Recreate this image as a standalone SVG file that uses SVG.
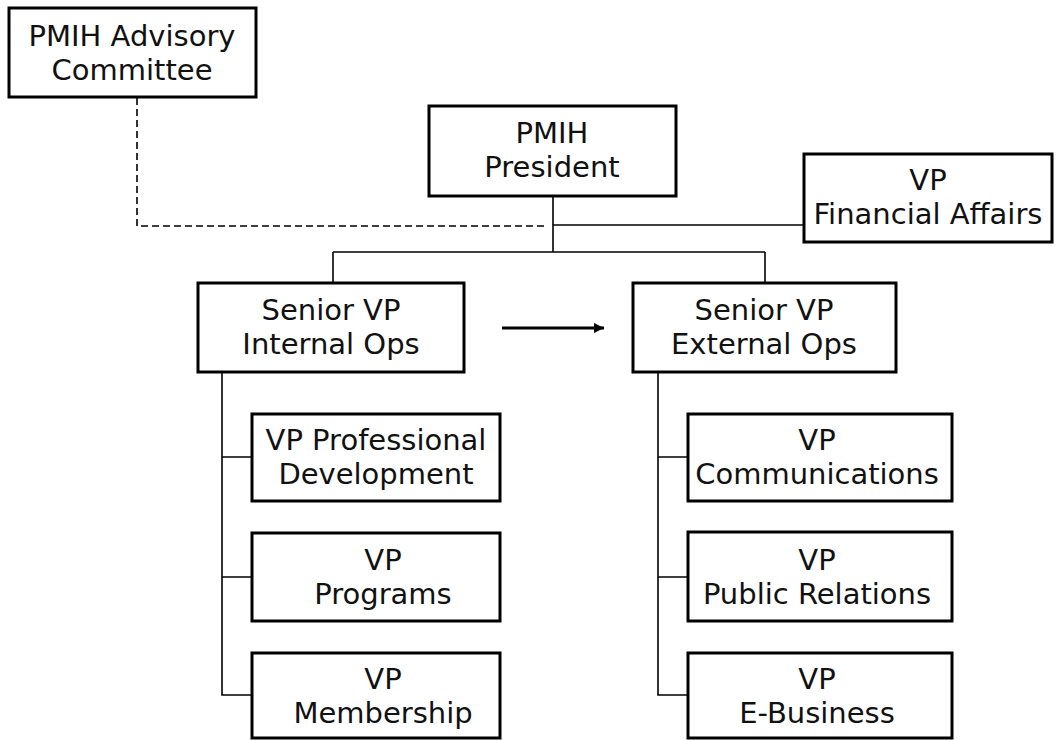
<svg xmlns="http://www.w3.org/2000/svg" width="1057" height="740" viewBox="0 0 1057 740">
<style>
.box{fill:#fff;stroke:#000;stroke-width:3}
.t{font-family:"DejaVu Sans","Liberation Sans",sans-serif;font-size:29px;fill:#111;text-anchor:middle}
.ln{fill:none;stroke:#000;stroke-width:1.6}
.dash{fill:none;stroke:#000;stroke-width:1.6;stroke-dasharray:7 4}
</style>
<defs>
<marker id="ah" markerWidth="10" markerHeight="10" refX="10" refY="5" orient="auto" markerUnits="userSpaceOnUse">
<path d="M0,0 L10,5 L0,10 Z" fill="#000"/>
</marker>
</defs>
<g id="connectors">
<path class="dash" d="M137,98 V226 H548"/>
<path class="ln" d="M553,197 V252"/>
<path class="ln" d="M553,225 H803"/>
<path class="ln" d="M333,252 H765"/>
<path class="ln" d="M333,252 V282"/>
<path class="ln" d="M765,252 V282"/>
<path class="ln" d="M222,372 V695 H251 M222,457 H251 M222,577 H251"/>
<path class="ln" d="M658,372 V695 H687 M658,457 H687 M658,577 H687"/>
<path d="M502,328 H604" fill="none" stroke="#000" stroke-width="3" marker-end="url(#ah)"/>
</g>
<g id="advisory">
<rect class="box" x="9" y="8" width="247" height="89"/>
<text class="t" x="132" y="46">PMIH Advisory</text>
<text class="t" x="132" y="80">Committee</text>
</g>
<g id="president">
<rect class="box" x="429" y="106" width="247" height="90"/>
<text class="t" x="552" y="143">PMIH</text>
<text class="t" x="552" y="177">President</text>
</g>
<g id="financial">
<rect class="box" x="804" y="154" width="248" height="88"/>
<text class="t" x="928" y="190">VP</text>
<text class="t" x="928" y="224">Financial Affairs</text>
</g>
<g id="internal">
<rect class="box" x="198" y="283" width="266" height="89"/>
<text class="t" x="331" y="320">Senior VP</text>
<text class="t" x="331" y="354">Internal Ops</text>
</g>
<g id="external">
<rect class="box" x="633" y="283" width="263" height="89"/>
<text class="t" x="764" y="320">Senior VP</text>
<text class="t" x="764" y="354">External Ops</text>
</g>
<g id="profdev">
<rect class="box" x="252" y="414" width="248" height="87"/>
<text class="t" x="376" y="450">VP Professional</text>
<text class="t" x="376" y="484">Development</text>
</g>
<g id="programs">
<rect class="box" x="252" y="533" width="248" height="88"/>
<text class="t" x="383" y="570">VP</text>
<text class="t" x="383" y="604">Programs</text>
</g>
<g id="membership">
<rect class="box" x="252" y="653" width="248" height="85"/>
<text class="t" x="383" y="689">VP</text>
<text class="t" x="383" y="723">Membership</text>
</g>
<g id="communications">
<rect class="box" x="688" y="414" width="264" height="87"/>
<text class="t" x="817" y="450">VP</text>
<text class="t" x="817" y="484">Communications</text>
</g>
<g id="publicrelations">
<rect class="box" x="688" y="532" width="264" height="89"/>
<text class="t" x="817" y="570">VP</text>
<text class="t" x="817" y="604">Public Relations</text>
</g>
<g id="ebusiness">
<rect class="box" x="688" y="653" width="264" height="85"/>
<text class="t" x="817" y="689">VP</text>
<text class="t" x="817" y="723">E-Business</text>
</g>
</svg>
